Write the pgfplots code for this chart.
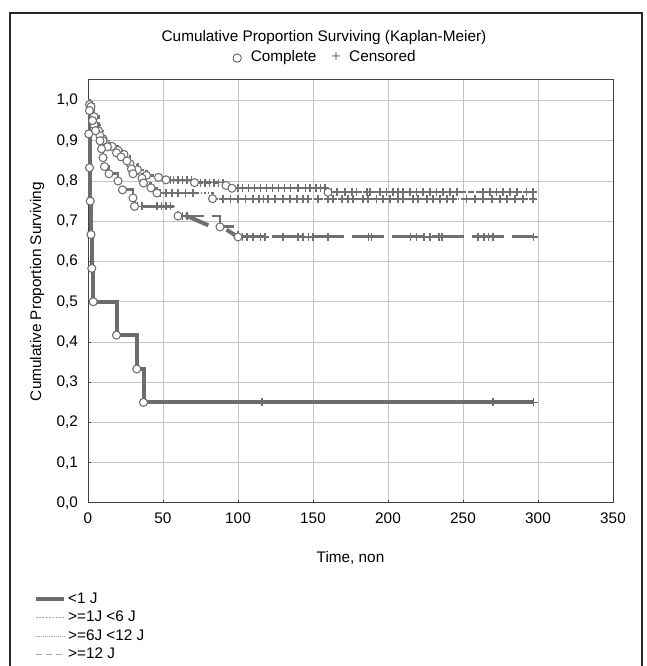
\documentclass[border=0pt]{standalone}
\usepackage{fontspec}
\setmainfont{Liberation Sans}
\newfontfamily\dejavu{DejaVu Sans}
\usepackage{pgfplots}
\pgfplotsset{compat=1.18}
\definecolor{linegray}{HTML}{6C6C6C}
\definecolor{curvegray}{HTML}{707070}
\definecolor{gridgray}{HTML}{C4C4C4}
\definecolor{axgray}{HTML}{404040}
\begin{document}
\begin{tikzpicture}[x=0.75pt,y=0.75pt]
\useasboundingbox (0,0) rectangle (646,666);
\draw[line width=0.9pt, black!85] (10,0) -- (10,653) -- (642,653) -- (642,0);
\begin{axis}[
  at={(66pt,122.25pt)}, anchor=south west,
  width=393.75pt, height=317.25pt, scale only axis,
  xmin=0, xmax=350, ymin=0, ymax=1.051,
  xtick={0,50,100,150,200,250,300,350},
  ytick={0,0.1,0.2,0.3,0.4,0.5,0.6,0.7,0.8,0.9,1},
  /pgf/number format/assume math mode=true,
  tick label style={font=\fontsize{11.5}{13}\selectfont},
  xticklabel style={yshift=-3.5pt},
  yticklabel style={xshift=-4pt, /pgf/number format/.cd, fixed, fixed zerofill, precision=1, use comma},
  label style={font=\fontsize{11.5}{13}\selectfont},
  grid=major, grid style={gridgray, line width=0.75pt},
  axis line style={axgray, line width=0.75pt},
  tick align=inside, tick pos=left, major tick length=2.5pt,
  tick style={axgray, line width=0.75pt},
  xlabel={Time, non}, ylabel={Cumulative Proportion Surviving},
  xlabel style={at={(axis description cs:0.5,-0.129)}, anchor=center},
  ylabel style={at={(axis description cs:-0.097,0.5)}, anchor=center, rotate=0},
  legend cell align=left,
  legend style={draw=none, fill=none, at={(axis description cs:-0.104,-0.208)}, anchor=north west,
    inner sep=0pt, row sep=1.9pt, font=\fontsize{11.5}{13}\selectfont, nodes={inner sep=1.2pt}},
  legend image code/.code={\draw[#1] (0cm,0cm) -- (0.76cm,0cm);},
]
% ---- lines ----
\addplot[const plot, linegray, line width=3pt, legend image post style={line width=3pt}] coordinates {
(0,1.0) (0.5,0.917) (1,0.833) (1.5,0.75) (2,0.667) (2.5,0.583) (3.5,0.5) (19,0.417) (32.5,0.333) (37,0.25) (297,0.25)};
\addlegendentry{<1 J}
\addplot[const plot, curvegray, line width=1.7pt, dash pattern=on 4pt off 2pt,
  legend image post style={line width=0.5pt, gray!70, dash pattern=on 1.5pt off 1pt}] coordinates {
(0,1) (1,0.99) (4,0.96) (7,0.925) (10,0.905) (12,0.893) (16,0.886) (20,0.876) (24,0.866) (28,0.843)
(33,0.828) (39,0.814) (47,0.809) (52,0.803) (71,0.796) (92,0.789) (96,0.782) (160,0.772) (297,0.772)};
\addlegendentry{>=1J <6 J}
\addplot[const plot, curvegray, line width=1.7pt, dash pattern=on 1.2pt off 1.5pt,
  legend image post style={line width=0.5pt, gray!70, dash pattern=on 0.6pt off 0.8pt}] coordinates {
(0,1) (2,0.985) (4,0.94) (8,0.912) (10,0.9) (13,0.885) (19,0.87) (22,0.86) (26,0.85) (29,0.83)
(30,0.818) (36,0.807) (37,0.795) (42,0.783) (46,0.770) (83,0.756) (297,0.756)};
\addlegendentry{>=6J <12 J}
\addplot[const plot, curvegray, line width=2.2pt, dash pattern=on 24pt off 6pt,
  legend image post style={line width=0.6pt, gray!70, dash pattern=on 5pt off 2.5pt}] coordinates {
(0,1) (1,0.975) (3,0.95) (5,0.925) (8,0.9) (9,0.88) (10,0.858) (11,0.836) (14,0.818) (20,0.80)
(23,0.778) (30,0.758) (31,0.737) (60,0.713) (88,0.686) (100,0.661) (297,0.661)};
\addlegendentry{>=12 J}
\addplot[curvegray, line width=3pt, forget plot] coordinates {(64.7,0.715) (80.2,0.690)};
\addplot[curvegray, line width=3pt, forget plot] coordinates {(92.4,0.679) (99.1,0.663)};
% ---- censored ----
\addplot[only marks, mark=+, mark size=3pt, mark options={draw=linegray, line width=1.3pt}, forget plot] coordinates {
(116,0.25) (270,0.25) (297,0.25)};
\addplot[only marks, mark=+, mark size=3pt, mark options={draw=curvegray, line width=1.3pt}, forget plot] coordinates {
(55,0.803) (57,0.803) (60,0.803) (63,0.803) (66,0.803) (69,0.803)
(75,0.796) (78,0.796) (81,0.796) (84,0.796) (87,0.796) (90,0.796)
(100,0.782) (103,0.782) (107,0.782) (111,0.782) (115,0.782) (119,0.782) (123,0.782) (127,0.782) (131,0.782)
(135,0.782) (140,0.782) (145,0.782) (148,0.782) (152,0.782) (155,0.782) (158,0.782)
(162.4,0.772) (165.8,0.772) (171.3,0.772) (175.8,0.772) (179,0.772) (185.8,0.772) (188,0.772) (194.7,0.772)
(199,0.772) (203.5,0.772) (206.9,0.772) (210.2,0.772) (214.6,0.772) (219,0.772) (223.5,0.772) (228,0.772)
(232.4,0.772) (236.9,0.772) (241.3,0.772) (245.8,0.772) (263.5,0.772) (268,0.772) (272.4,0.772)
(276.9,0.772) (281.3,0.772) (285.8,0.772) (292.4,0.772) (296.9,0.772)};
\addplot[only marks, mark=+, mark size=3pt, mark options={draw=curvegray, line width=1.3pt}, forget plot] coordinates {
(48,0.770) (52,0.770) (56,0.770) (60,0.770) (65,0.770) (70,0.770)
(90,0.756) (95,0.756) (100,0.756) (105,0.756) (110,0.756) (114,0.756) (117,0.756) (120,0.756)
(124.6,0.756) (130.2,0.756) (134.6,0.756) (139.1,0.756) (143.5,0.756) (146.9,0.756) (153.5,0.756)
(160.2,0.756) (163.5,0.756) (169.1,0.756) (173.5,0.756) (176.9,0.756) (183.5,0.756) (186.9,0.756)
(192.4,0.756) (196.9,0.756) (201.3,0.756) (206.9,0.756) (210.2,0.756) (216.9,0.756) (220.2,0.756)
(225.8,0.756) (230.2,0.756) (234.6,0.756) (239.1,0.756) (243.5,0.756) (252.4,0.756) (258,0.756)
(263.5,0.756) (269.1,0.756) (274.6,0.756) (279.1,0.756) (284.6,0.756) (290.2,0.756) (296.9,0.756)};
\addplot[only marks, mark=+, mark size=3pt, mark options={draw=curvegray, line width=1.3pt}, forget plot] coordinates {
(33,0.737) (36,0.737) (46,0.737) (49,0.737) (52,0.737) (55,0.737)
(63,0.713) (66,0.713)
(103,0.661) (106,0.661) (110,0.661) (115,0.661) (118,0.661) (130,0.661) (140,0.661) (143.5,0.661)
(147,0.661) (150,0.661) (160,0.661) (187,0.661) (189,0.661) (215,0.661) (219,0.661) (224,0.661)
(228,0.661) (234,0.661) (236,0.661) (260,0.661) (264,0.661) (267,0.661) (270,0.661) (297,0.661)};
% ---- complete (events) ----
\addplot[only marks, mark=*, mark size=3pt, mark options={draw=curvegray, fill=white, line width=0.8pt}, forget plot] coordinates {
(1,0.99) (4,0.96) (7,0.925) (10,0.905) (12,0.893) (16,0.886) (20,0.876) (24,0.866) (28,0.843)
(33,0.828) (39,0.814) (47,0.809) (52,0.803) (71,0.796) (92,0.789) (96,0.782) (160,0.772)};
\addplot[only marks, mark=*, mark size=3pt, mark options={draw=curvegray, fill=white, line width=0.8pt}, forget plot] coordinates {
(2,0.985) (4,0.94) (8,0.912) (10,0.9) (13,0.885) (19,0.87) (22,0.86) (26,0.85) (29,0.83)
(30,0.818) (36,0.807) (37,0.795) (42,0.783) (46,0.770) (83,0.756)};
\addplot[only marks, mark=*, mark size=3pt, mark options={draw=curvegray, fill=white, line width=0.8pt}, forget plot] coordinates {
(1,0.975) (3,0.95) (5,0.925) (8,0.9) (9,0.88) (10,0.858) (11,0.836) (14,0.818) (20,0.80)
(23,0.778) (30,0.758) (31,0.737) (60,0.713) (88,0.686) (100,0.661)};
\addplot[only marks, mark=*, mark size=3pt, mark options={draw=linegray, fill=white, line width=0.8pt}, forget plot] coordinates {
(0.5,0.917) (1,0.833) (1.5,0.75) (2,0.667) (2.5,0.583) (3.5,0.5) (19,0.417) (32.5,0.333) (37,0.25)};
\end{axis}
\node[font=\fontsize{11.5}{13}\selectfont] at (324,628) {Cumulative Proportion Surviving (Kaplan-Meier)};
\node[font=\fontsize{11.5}{13}\selectfont] at (324,608) {{\dejavu\fontsize{8.5}{9}\selectfont ○}\ \ Complete\quad {\color{curvegray}+}\ \ Censored};
\end{tikzpicture}
\end{document}
